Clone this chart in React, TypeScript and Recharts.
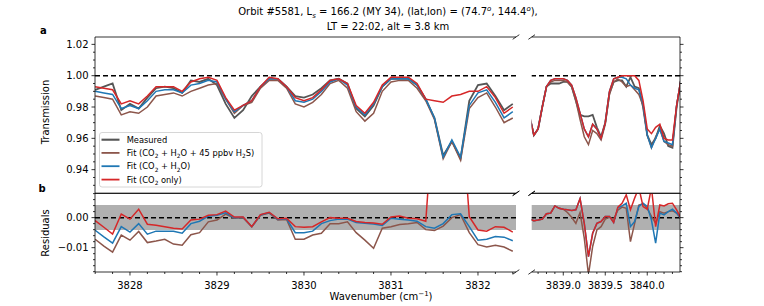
import React from 'react';
import { LineChart, Line, XAxis, YAxis, ReferenceLine, ReferenceArea } from 'recharts';

const WIDTH = 764;
const HEIGHT = 306;
const FONT = '"DejaVu Sans", Verdana, sans-serif';

// ---- left part of the broken axis (3827.6 - 3832.4 cm-1) ----
const waveLeft = [
  3827.6, 3827.7, 3827.8, 3827.9, 3828.0, 3828.1, 3828.2, 3828.3, 3828.4, 3828.5,
  3828.6, 3828.7, 3828.8, 3828.9, 3829.0, 3829.1, 3829.2, 3829.3, 3829.4, 3829.5,
  3829.6, 3829.7, 3829.8, 3829.9, 3830.0, 3830.1, 3830.2, 3830.3, 3830.4, 3830.5,
  3830.6, 3830.7, 3830.8, 3830.9, 3831.0, 3831.1, 3831.2, 3831.3, 3831.4, 3831.5,
  3831.6, 3831.7, 3831.8, 3831.9, 3832.0, 3832.1, 3832.2, 3832.3, 3832.4,
];
const measuredLeft = [
  0.991, 0.993, 0.995, 0.978, 0.982, 0.979, 0.986, 0.992, 0.993, 0.992,
  0.989, 0.997, 0.996, 0.998, 0.994, 0.982, 0.973, 0.978, 0.987, 0.993,
  0.998, 0.998, 0.993, 0.987, 0.986, 0.988, 0.992, 0.997, 0.998, 0.995,
  0.979, 0.974, 0.981, 0.993, 0.998, 0.998, 0.998, 0.994, 0.985, 0.973,
  0.949, 0.958, 0.947, 0.984, 0.994, 0.995, 0.987, 0.978, 0.982,
];
const fitH2SLeft = [
  0.987, 0.986, 0.985, 0.975, 0.977, 0.976, 0.980, 0.987, 0.988, 0.989,
  0.987, 0.990, 0.992, 0.994, 0.995, 0.985, 0.976, 0.981, 0.983, 0.992,
  0.997, 0.997, 0.992, 0.982, 0.980, 0.983, 0.988, 0.995, 0.997, 0.992,
  0.977, 0.971, 0.976, 0.990, 0.996, 0.997, 0.997, 0.992, 0.984, 0.972,
  0.947, 0.958, 0.946, 0.979, 0.986, 0.989, 0.980, 0.970, 0.973,
];
const fitH2OLeft = [
  0.990, 0.989, 0.988, 0.979, 0.981, 0.979, 0.984, 0.990, 0.991, 0.991,
  0.989, 0.994, 0.995, 0.997, 0.996, 0.985, 0.977, 0.981, 0.984, 0.993,
  0.998, 0.998, 0.993, 0.984, 0.983, 0.985, 0.990, 0.996, 0.998, 0.994,
  0.980, 0.975, 0.982, 0.993, 0.998, 0.998, 0.998, 0.994, 0.985, 0.973,
  0.948, 0.959, 0.948, 0.981, 0.989, 0.991, 0.983, 0.973, 0.977,
];
const fitCO2Left = [
  0.993, 0.992, 0.991, 0.982, 0.984, 0.982, 0.987, 0.993, 0.993, 0.993,
  0.990, 0.996, 0.998, 0.999, 0.997, 0.986, 0.978, 0.981, 0.984, 0.993,
  0.999, 0.998, 0.993, 0.986, 0.984, 0.986, 0.991, 0.997, 0.998, 0.995,
  0.981, 0.976, 0.983, 0.994, 0.999, 0.999, 0.999, 0.995, 0.985, 0.984,
  0.983, 0.987, 0.988, 0.990, 0.990, 0.993, 0.986, 0.976, 0.980,
];
const resH2SLeft = [
  -0.0072, -0.0095, -0.0115, -0.0058, -0.0075, -0.0046, -0.0083, -0.0078, -0.0072, -0.0088,
  -0.0092, -0.0057, -0.0050, -0.0014, -0.0008, 0.0012, -0.0002, 0.0, -0.0031, 0.0008,
  0.0015, -0.0008, -0.0006, -0.0072, -0.0072, -0.0058, -0.0052, -0.0020, -0.0020, -0.0014,
  -0.0050, -0.0075, -0.0102, -0.0035, -0.0030, -0.0023, -0.0020, -0.0016, -0.0040, -0.0043,
  -0.0028, 0.0, 0.0010, -0.0050, -0.0090, -0.0098, -0.0092, -0.0098, -0.0112,
];
const resH2OLeft = [
  -0.0042, -0.0064, -0.0085, -0.0030, -0.0048, -0.0020, -0.0055, -0.0045, -0.0045, -0.0045,
  -0.0052, -0.0020, -0.0012, 0.0005, 0.0008, 0.0016, 0.0, 0.0001, -0.0030, 0.0009,
  0.0017, -0.0006, -0.0004, -0.0050, -0.0050, -0.0045, -0.0020, -0.0010, -0.0005, -0.0005,
  -0.0016, -0.0019, -0.0021, -0.0026, -0.0002, -0.0005, -0.0008, -0.0012, -0.0030, -0.0035,
  -0.0020, 0.0010, 0.0013, -0.0030, -0.0075, -0.0072, -0.0063, -0.0065, -0.0077,
];
const resCO2Left = [
  -0.0010, -0.0032, -0.0055, 0.0012, -0.0005, 0.0028, -0.0022, -0.0025, -0.0030, -0.0035,
  -0.0038, -0.0008, -0.0005, 0.0008, 0.0010, 0.0022, 0.0002, 0.0002, -0.0030, 0.0010,
  0.0018, -0.0004, -0.0002, -0.0030, -0.0032, -0.0030, -0.0014, 0.0, -0.0002, -0.0002,
  -0.0013, -0.0016, -0.0018, -0.0022, 0.0002, 0.0005, -0.0002, -0.0004, -0.0012, 0.04,
  0.04, 0.04, 0.04, 0.0003, -0.0041, -0.0045, -0.0030, -0.0032, -0.0048,
];

// ---- right part of the broken axis (3838.6 - 3840.4 cm-1) ----
const waveRight = [
  3838.6, 3838.65, 3838.7, 3838.75, 3838.8, 3838.85, 3838.9, 3838.95, 3839.0, 3839.05,
  3839.1, 3839.15, 3839.2, 3839.25, 3839.3, 3839.35, 3839.4, 3839.45, 3839.5, 3839.55,
  3839.6, 3839.65, 3839.7, 3839.75, 3839.8, 3839.85, 3839.9, 3839.95, 3840.0, 3840.05,
  3840.1, 3840.15, 3840.2, 3840.25, 3840.3, 3840.35, 3840.4,
];
const measuredRight = [
  0.974, 0.962, 0.966, 0.980, 0.993, 0.995, 0.995, 0.995, 0.996, 0.996,
  0.993, 0.984, 0.975, 0.974, 0.974, 0.975, 0.967, 0.961, 0.970, 0.989,
  0.996, 0.997, 0.997, 0.993, 0.999, 0.993, 0.992, 0.980, 0.962, 0.956,
  0.960, 0.968, 0.963, 0.955, 0.954, 0.980, 0.997,
];
const fitH2SRight = [
  0.974, 0.962, 0.966, 0.980, 0.993, 0.996, 0.997, 0.997, 0.997, 0.996,
  0.993, 0.984, 0.972, 0.961, 0.956, 0.965, 0.963, 0.959, 0.969, 0.988,
  0.996, 0.998, 0.996, 0.993, 0.994, 0.991, 0.988, 0.981, 0.962, 0.954,
  0.961, 0.966, 0.958, 0.956, 0.955, 0.981, 0.997,
];
const fitH2ORight = [
  0.974, 0.962, 0.966, 0.980, 0.993, 0.997, 0.998, 0.998, 0.998, 0.997,
  0.994, 0.986, 0.976, 0.966, 0.961, 0.969, 0.966, 0.960, 0.970, 0.990,
  0.998, 0.999, 0.999, 0.998, 0.994, 0.992, 0.991, 0.982, 0.962, 0.954,
  0.960, 0.966, 0.958, 0.957, 0.956, 0.981, 0.997,
];
const fitCO2Right = [
  0.974, 0.962, 0.966, 0.980, 0.993, 0.997, 0.998, 0.998, 0.998, 0.997,
  0.994, 0.986, 0.976, 0.966, 0.961, 0.969, 0.966, 0.960, 0.970, 0.990,
  0.998, 0.999, 1.000, 1.000, 1.000, 1.000, 0.997, 0.984, 0.966, 0.963,
  0.967, 0.969, 0.960, 0.959, 0.959, 0.981, 0.997,
];
const resH2SRight = [
  -0.0005, -0.0010, -0.0008, -0.0005, 0.0013, 0.0015, 0.0039, 0.0031, 0.0028, 0.0017,
  0.0001, -0.0019, 0.0017, -0.0068, -0.0190, -0.0096, -0.0041, -0.0030, -0.0005, 0.0001,
  -0.0005, 0.0025, 0.0035, 0.0031, -0.0080, -0.0019, 0.0042, 0.0046, 0.0031, 0.0004,
  -0.0019, 0.0020, 0.0015, 0.0020, 0.0023, 0.0015, -0.0002,
];
const resH2ORight = [
  -0.0005, -0.0010, -0.0008, -0.0005, 0.0013, 0.0015, 0.0039, 0.0031, 0.0028, 0.0026,
  0.0024, 0.0026, 0.0063, -0.0019, -0.0130, -0.0052, -0.0019, -0.0013, 0.0004, 0.0004,
  -0.0016, 0.0033, 0.0039, 0.0048, -0.0030, -0.0013, 0.0037, 0.0048, 0.0037, -0.0008,
  -0.0085, 0.0015, 0.0009, 0.0020, 0.0028, 0.0015, -0.0002,
];
const resCO2Right = [
  -0.0005, -0.0010, -0.0008, -0.0005, 0.0013, 0.0015, 0.0039, 0.0031, 0.0028, 0.0026,
  0.0024, 0.0026, 0.0063, -0.0019, -0.0130, -0.0052, -0.0019, -0.0013, 0.0004, 0.0004,
  -0.0016, 0.0035, 0.0048, 0.0076, 0.0026, 0.0065, 0.0100, 0.0037, 0.0028, 0.0100,
  -0.0030, 0.0042, 0.0039, 0.0046, 0.0048, 0.0026, -0.0002,
];

// noise band of the measurement, drawn behind the residuals
const noiseBand: [number, number] = [-0.0041, 0.0042];

// axis ticks
const transTicks = [
  0.93, 0.935, 0.94, 0.945, 0.95, 0.955, 0.96, 0.965, 0.97, 0.975,
  0.98, 0.985, 0.99, 0.995, 1.0, 1.005, 1.01, 1.015, 1.02,
];
const transMajor = [0.94, 0.96, 0.98, 1.0, 1.02];
const resTicks = [
  0.008, 0.006, 0.004, 0.002, 0.0, -0.002, -0.004, -0.006, -0.008, -0.01,
  -0.012, -0.014, -0.016, -0.018,
];
const resMajor = [0.0, -0.01];
const xTicksLeft = [
  3827.6, 3827.8, 3828.0, 3828.2, 3828.4, 3828.6, 3828.8, 3829.0, 3829.2, 3829.4,
  3829.6, 3829.8, 3830.0, 3830.2, 3830.4, 3830.6, 3830.8, 3831.0, 3831.2, 3831.4,
  3831.6, 3831.8, 3832.0, 3832.2, 3832.4,
];
const xMajorLeft = [3828, 3829, 3830, 3831, 3832];
const xTicksRight = [
  3838.7, 3838.8, 3838.9, 3839.0, 3839.1, 3839.2, 3839.3, 3839.4, 3839.5, 3839.6,
  3839.7, 3839.8, 3839.9, 3840.0, 3840.1, 3840.2, 3840.3,
];
const xMajorRight = [3839.0, 3839.5, 3840.0];

const rowsLeft = waveLeft.map((w, i) => ({
  w,
  measured: measuredLeft[i],
  fitH2S: fitH2SLeft[i],
  fitH2O: fitH2OLeft[i],
  fitCO2: fitCO2Left[i],
  resH2S: resH2SLeft[i],
  resH2O: resH2OLeft[i],
  resCO2: resCO2Left[i],
}));
const rowsRight = waveRight.map((w, i) => ({
  w,
  measured: measuredRight[i],
  fitH2S: fitH2SRight[i],
  fitH2O: fitH2ORight[i],
  fitCO2: fitCO2Right[i],
  resH2S: resH2SRight[i],
  resH2O: resH2ORight[i],
  resCO2: resCO2Right[i],
}));

const GREY = '#555555';
const BROWN = '#8c564b';
const BLUE = '#1f77b4';
const RED = '#d62728';

type Series = { key: string; color: string; width: number };
const transSeries: Series[] = [
  { key: 'measured', color: GREY, width: 1.8 },
  { key: 'fitH2S', color: BROWN, width: 1.5 },
  { key: 'fitH2O', color: BLUE, width: 1.5 },
  { key: 'fitCO2', color: RED, width: 1.5 },
];
const resSeries: Series[] = [
  { key: 'resH2S', color: BROWN, width: 1.5 },
  { key: 'resH2O', color: BLUE, width: 1.5 },
  { key: 'resCO2', color: RED, width: 1.5 },
];

type Box = { left: number; top: number; right: number; bottom: number };

interface PanelProps {
  data: any[];
  series: Series[];
  box: Box;
  xDomain: [number, number];
  yDomain: [number, number];
  xTicks?: number[];
  xMajor?: number[];
  xDigits?: number;
  yTicks: number[];
  yMajor: number[];
  yFormat: (v: number) => string;
  ySide: 'left' | 'right';
  yLabels: boolean;
  refValue: number;
  band?: [number, number];
  breakAt: 'left' | 'right';
}

const near = (list: number[], v: number) => list.some((m) => Math.abs(m - v) < 1e-7);

function Panel(p: PanelProps) {
  const { box, xDomain, yDomain } = p;
  const pxX = (box.right - box.left) / (xDomain[1] - xDomain[0]);
  const pxY = (box.bottom - box.top) / (yDomain[1] - yDomain[0]);
  const bx = p.breakAt === 'right' ? xDomain[1] : xDomain[0];
  const dx = 3.3 / pxX;
  const dy = 2.3 / pxY;

  // axes need a size of at least 1px to be drawn at all
  const margin = {
    top: box.top,
    left: p.ySide === 'left' ? box.left - 1 : box.left,
    right: p.ySide === 'right' ? WIDTH - box.right - 1 : WIDTH - box.right,
    bottom: p.xTicks ? HEIGHT - box.bottom - 1 : HEIGHT - box.bottom,
  };

  const xTick = (t: any) => {
    const v = t.payload.value;
    const major = near(p.xMajor || [], v);
    return (
      <g>
        <line x1={t.x} x2={t.x} y1={t.y} y2={t.y + (major ? 3.5 : 2)} stroke="#000" strokeWidth={0.8} />
        {major && (
          <text x={t.x} y={t.y + 16.6} textAnchor="middle" fontSize={10} fontFamily={FONT} fill="#000">
            {v.toFixed(p.xDigits || 0)}
          </text>
        )}
      </g>
    );
  };

  const yTick = (t: any) => {
    const v = t.payload.value;
    const major = near(p.yMajor, v);
    const dir = p.ySide === 'left' ? -1 : 1;
    return (
      <g>
        <line x1={t.x} x2={t.x + dir * (major ? 3.5 : 2)} y1={t.y} y2={t.y} stroke="#000" strokeWidth={0.8} />
        {major && p.yLabels && (
          <text x={t.x - 6.5} y={t.y + 3.6} textAnchor="end" fontSize={10} fontFamily={FONT} fill="#000">
            {p.yFormat(v)}
          </text>
        )}
      </g>
    );
  };

  const spine = { stroke: '#000', strokeWidth: 0.8 };

  return (
    <div style={{ position: 'absolute', left: 0, top: 0 }}>
      <LineChart width={WIDTH} height={HEIGHT} data={p.data} margin={margin}>
        {p.xTicks ? (
          <XAxis
            type="number"
            dataKey="w"
            domain={xDomain}
            allowDataOverflow
            ticks={p.xTicks}
            interval={0}
            height={1}
            tickSize={0}
            tickMargin={0}
            tickLine={false}
            axisLine={spine}
            tick={xTick}
          />
        ) : (
          <XAxis type="number" dataKey="w" domain={xDomain} allowDataOverflow hide />
        )}
        <YAxis
          type="number"
          domain={yDomain}
          allowDataOverflow
          orientation={p.ySide}
          width={1}
          ticks={p.yTicks}
          interval={0}
          tickSize={0}
          tickMargin={0}
          tickLine={false}
          axisLine={spine}
          tick={yTick}
        />
        {p.band && <ReferenceArea y1={p.band[0]} y2={p.band[1]} fill="#b0b0b0" fillOpacity={1} stroke="none" />}
        <ReferenceLine y={p.refValue} stroke="#000" strokeDasharray="5 3" strokeWidth={1.5} />
        {p.series.map((s) => (
          <Line
            key={s.key}
            type="linear"
            dataKey={s.key}
            stroke={s.color}
            strokeWidth={s.width}
            dot={false}
            activeDot={false}
            isAnimationActive={false}
          />
        ))}
        <ReferenceLine y={yDomain[1]} {...spine} ifOverflow="visible" />
        {!p.xTicks && <ReferenceLine y={yDomain[0]} {...spine} ifOverflow="visible" />}
        <ReferenceLine
          segment={[{ x: bx - dx, y: yDomain[1] - dy }, { x: bx + dx, y: yDomain[1] + dy }]}
          {...spine}
          ifOverflow="visible"
        />
        <ReferenceLine
          segment={[{ x: bx - dx, y: yDomain[0] - dy }, { x: bx + dx, y: yDomain[0] + dy }]}
          {...spine}
          ifOverflow="visible"
        />
      </LineChart>
    </div>
  );
}

type Piece = [string, 'n' | 'sub' | 'sup' | 'isub' | 'isup'];

function Rich({ x, y, size, pieces, anchor = 'start' }: { x: number; y: number; size: number; pieces: Piece[]; anchor?: string }) {
  let shift = 0;
  const spans = pieces.map(([t, k], i) => {
    const target = k.endsWith('sub') ? size * 0.28 : k.endsWith('sup') ? -size * 0.4 : 0;
    const d = target - shift;
    shift = target;
    return (
      <tspan key={i} dy={d} fontSize={k === 'n' ? size : size * 0.7} fontStyle={k.startsWith('i') ? 'italic' : 'normal'}>
        {t}
      </tspan>
    );
  });
  return (
    <text x={x} y={y} fontSize={size} fontFamily={FONT} textAnchor={anchor as any} fill="#000" style={{ whiteSpace: 'pre' }}>
      {spans}
    </text>
  );
}

const legendItems: { color: string; width: number; pieces: Piece[] }[] = [
  { color: GREY, width: 1.8, pieces: [['Measured', 'n']] },
  {
    color: BROWN,
    width: 1.5,
    pieces: [['Fit (CO', 'n'], ['2', 'sub'], [' + H', 'n'], ['2', 'sub'], ['O + 45 ppbv H', 'n'], ['2', 'sub'], ['S)', 'n']],
  },
  { color: BLUE, width: 1.5, pieces: [['Fit (CO', 'n'], ['2', 'sub'], [' + H', 'n'], ['2', 'sub'], ['O)', 'n']] },
  { color: RED, width: 1.5, pieces: [['Fit (CO', 'n'], ['2', 'sub'], [' only)', 'n']] },
];
const legendRows = [139.7, 152.9, 166.2, 179.6];

const xLeft: [number, number] = [3827.598, 3832.437];
const xRight: [number, number] = [3838.624, 3840.39];
const yTrans: [number, number] = [0.9249, 1.0247];
const yRes: [number, number] = [-0.0181, 0.0081];

const fmtTrans = (v: number) => v.toFixed(2);
const fmtRes = (v: number) => (Math.abs(v) < 1e-9 ? '0.00' : (v < 0 ? '\u2212' : '') + Math.abs(v).toFixed(2));

export default function App() {
  return (
    <div style={{ position: 'absolute', left: 0, top: 0, width: WIDTH, height: HEIGHT, background: '#fff' }}>
      <Panel
        data={rowsLeft}
        series={transSeries}
        box={{ left: 95, top: 37, right: 516, bottom: 193.3 }}
        xDomain={xLeft}
        yDomain={yTrans}
        yTicks={transTicks}
        yMajor={transMajor}
        yFormat={fmtTrans}
        ySide="left"
        yLabels
        refValue={1.0}
        breakAt="right"
      />
      <Panel
        data={rowsRight}
        series={transSeries}
        box={{ left: 531.7, top: 37, right: 680, bottom: 193.3 }}
        xDomain={xRight}
        yDomain={yTrans}
        yTicks={transTicks}
        yMajor={transMajor}
        yFormat={fmtTrans}
        ySide="right"
        yLabels={false}
        refValue={1.0}
        breakAt="left"
      />
      <Panel
        data={rowsLeft}
        series={resSeries}
        box={{ left: 95, top: 193.3, right: 516, bottom: 272 }}
        xDomain={xLeft}
        yDomain={yRes}
        xTicks={xTicksLeft}
        xMajor={xMajorLeft}
        xDigits={0}
        yTicks={resTicks}
        yMajor={resMajor}
        yFormat={fmtRes}
        ySide="left"
        yLabels
        refValue={0}
        band={noiseBand}
        breakAt="right"
      />
      <Panel
        data={rowsRight}
        series={resSeries}
        box={{ left: 531.7, top: 193.3, right: 680, bottom: 272 }}
        xDomain={xRight}
        yDomain={yRes}
        xTicks={xTicksRight}
        xMajor={xMajorRight}
        xDigits={1}
        yTicks={resTicks}
        yMajor={resMajor}
        yFormat={fmtRes}
        ySide="right"
        yLabels={false}
        refValue={0}
        band={noiseBand}
        breakAt="left"
      />
      <svg width={WIDTH} height={HEIGHT} style={{ position: 'absolute', left: 0, top: 0, pointerEvents: 'none' }}>
        <Rich
          x={388}
          y={15}
          size={10}
          anchor="middle"
          pieces={[
            ['Orbit #5581, L', 'n'],
            ['s', 'isub'],
            [' = 166.2 (MY 34), (lat,lon) = (74.7', 'n'],
            ['o', 'isup'],
            [', 144.4', 'n'],
            ['o', 'isup'],
            ['),', 'n'],
          ]}
        />
        <Rich x={388} y={30} size={10} anchor="middle" pieces={[['LT = 22:02, alt = 3.8 km', 'n']]} />
        <text x={40} y={34} fontSize={10} fontWeight="bold" fontFamily={FONT}>a</text>
        <text x={38.5} y={191.7} fontSize={10} fontWeight="bold" fontFamily={FONT}>b</text>
        <text transform="translate(48.6,112) rotate(-90)" textAnchor="middle" fontSize={10} fontFamily={FONT}>
          Transmission
        </text>
        <text transform="translate(48.6,233) rotate(-90)" textAnchor="middle" fontSize={10} fontFamily={FONT}>
          Residuals
        </text>
        <Rich
          x={381}
          y={300}
          size={10}
          anchor="middle"
          pieces={[['Wavenumber (cm', 'n'], ['\u22121', 'sup'], [')', 'n']]}
        />
        <rect x={99.5} y={132.5} width={162.5} height={54.5} rx={2.5} fill="#fff" fillOpacity={0.8} stroke="#cccccc" strokeWidth={0.8} />
        {legendItems.map((it, i) => (
          <g key={i}>
            <line x1={101.5} x2={119.5} y1={legendRows[i]} y2={legendRows[i]} stroke={it.color} strokeWidth={it.width + 0.3} />
            <Rich x={126.7} y={legendRows[i] + 3} size={8.3} pieces={it.pieces} />
          </g>
        ))}
      </svg>
    </div>
  );
}
